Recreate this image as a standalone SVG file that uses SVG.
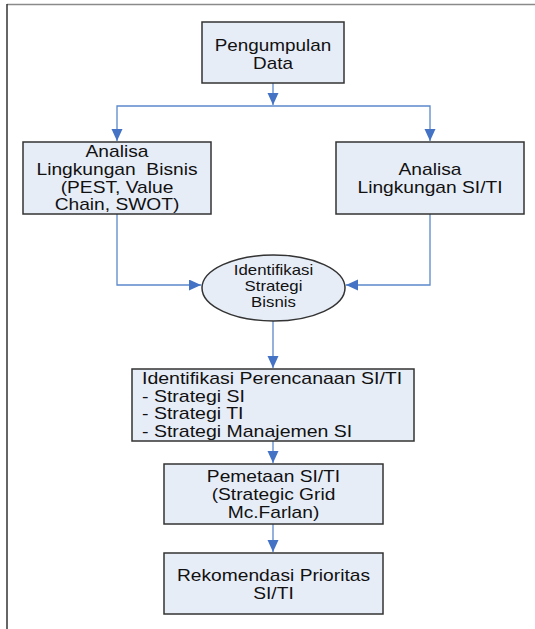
<svg xmlns="http://www.w3.org/2000/svg" width="535" height="629" viewBox="0 0 535 629">
<style>
.box{fill:#E7EDF7;stroke:#333;stroke-width:1.5}
.t{font-family:"Liberation Sans",Arial,sans-serif;font-size:16px;fill:#111;text-anchor:middle}
.ts{font-family:"Liberation Sans",Arial,sans-serif;font-size:14px;fill:#111;text-anchor:middle}
.tl{font-family:"Liberation Sans",Arial,sans-serif;font-size:16px;fill:#111;text-anchor:start}
.c{fill:none;stroke:#5B88CC;stroke-width:1.3}
</style>
<defs>
<marker id="ah" markerUnits="userSpaceOnUse" markerWidth="13" markerHeight="12" refX="12" refY="5.5" orient="auto">
<path d="M0,0 L12,5.5 L0,11 z" fill="#4472C4"/>
</marker>
</defs>
<rect width="535" height="629" fill="#fff"/>
<g id="frame">
<line x1="7" y1="4.5" x2="535" y2="4.5" stroke="#8a8a8a" stroke-width="1.5"/>
<line x1="7" y1="4" x2="7" y2="629" stroke="#333" stroke-width="1.5"/>
</g>
<g id="connectors">
<path class="c" d="M273,83 V105" marker-end="url(#ah)"/>
<path class="c" d="M273,106 H117 V141" marker-end="url(#ah)"/>
<path class="c" d="M273,106 H430 V141" marker-end="url(#ah)"/>
<path class="c" d="M117,214 V285 H201" marker-end="url(#ah)"/>
<path class="c" d="M430,214 V285 H346" marker-end="url(#ah)"/>
<path class="c" d="M273,321 V368" marker-end="url(#ah)"/>
<path class="c" d="M273,441 V463" marker-end="url(#ah)"/>
<path class="c" d="M273,524 V552" marker-end="url(#ah)"/>
</g>
<g id="pengumpulan">
<rect class="box" x="202" y="22" width="142" height="61"/>
<text class="t" transform="translate(273,51) scale(1.18,1)">Pengumpulan</text>
<text class="t" transform="translate(273,69) scale(1.18,1)">Data</text>
</g>
<g id="analisa-bisnis">
<rect class="box" x="23" y="142" width="188" height="72"/>
<text class="t" transform="translate(117,157) scale(1.2,1)">Analisa</text>
<text class="t" transform="translate(117,175) scale(1.2,1)" xml:space="preserve">Lingkungan  Bisnis</text>
<text class="t" transform="translate(117,193) scale(1.2,1)">(PEST, Value</text>
<text class="t" transform="translate(117,210) scale(1.2,1)">Chain, SWOT)</text>
</g>
<g id="analisa-siti">
<rect class="box" x="336" y="142" width="188" height="72"/>
<text class="t" transform="translate(430,175) scale(1.2,1)">Analisa</text>
<text class="t" transform="translate(430,193) scale(1.2,1)">Lingkungan SI/TI</text>
</g>
<g id="identifikasi-strategi">
<ellipse class="box" cx="273.5" cy="288" rx="71.5" ry="33"/>
<text class="ts" transform="translate(273.5,275) scale(1.2,1)">Identifikasi</text>
<text class="ts" transform="translate(273.5,291) scale(1.2,1)">Strategi</text>
<text class="ts" transform="translate(273.5,307) scale(1.2,1)">Bisnis</text>
</g>
<g id="identifikasi-perencanaan">
<rect class="box" x="132" y="369" width="282" height="72"/>
<text class="tl" transform="translate(142,384) scale(1.22,1)">Identifikasi Perencanaan SI/TI</text>
<text class="tl" transform="translate(142,402) scale(1.22,1)">- Strategi SI</text>
<text class="tl" transform="translate(142,419) scale(1.22,1)">- Strategi TI</text>
<text class="tl" transform="translate(142,437) scale(1.22,1)">- Strategi Manajemen SI</text>
</g>
<g id="pemetaan">
<rect class="box" x="164" y="464" width="219" height="60"/>
<text class="t" transform="translate(273.5,482) scale(1.2,1)">Pemetaan SI/TI</text>
<text class="t" transform="translate(273.5,500) scale(1.2,1)">(Strategic Grid</text>
<text class="t" transform="translate(273.5,518) scale(1.2,1)">Mc.Farlan)</text>
</g>
<g id="rekomendasi">
<rect class="box" x="164" y="553" width="219" height="61"/>
<text class="t" transform="translate(273.5,581) scale(1.2,1)">Rekomendasi Prioritas</text>
<text class="t" transform="translate(273.5,599) scale(1.2,1)">SI/TI</text>
</g>
</svg>
